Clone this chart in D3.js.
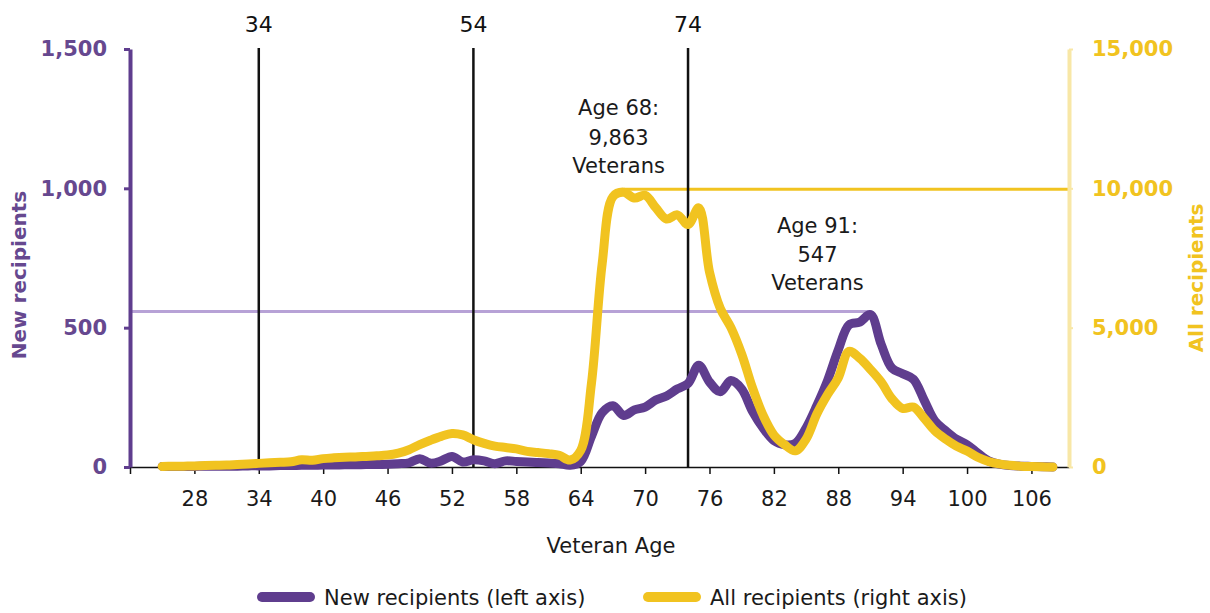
<!DOCTYPE html>
<html>
<head>
<meta charset="utf-8">
<script src="https://cdn.jsdelivr.net/npm/d3@7"></script>
<style>
    body { margin: 0; background: #ffffff; }
    svg text { font-family: "DejaVu Sans", sans-serif; }
</style>
</head>
<body>
<svg id="chart" width="1210" height="613"></svg>
<script>
'use strict';

//Veteran age categories (x axis)
var ages = [25, 26, 27, 28, 29, 30, 31, 32, 33, 34, 35, 36, 37, 38, 39, 40, 41, 42, 43, 44,
    45, 46, 47, 48, 49, 50, 51, 52, 53, 54, 55, 56, 57, 58, 59, 60, 61, 62, 63, 64,
    65, 66, 67, 68, 69, 70, 71, 72, 73, 74, 75, 76, 77, 78, 79, 80, 81, 82, 83, 84,
    85, 86, 87, 88, 89, 90, 91, 92, 93, 94, 95, 96, 97, 98, 99, 100, 101, 102, 103, 104,
    105, 106, 107, 108];

//New recipients (left axis)
var newRecipients = [2, 2, 2, 2, 3, 3, 3, 3, 4, 4, 4, 5, 5, 6, 6, 7, 7, 8, 8, 9,
    9, 10, 12, 15, 30, 14, 22, 38, 18, 26, 22, 12, 22, 20, 18, 16, 14, 12, 6, 20,
    110, 195, 220, 185, 205, 215, 240, 255, 280, 300, 365, 305, 270, 310, 280, 200, 140, 95, 80, 85,
    140, 220, 310, 420, 510, 520, 547, 440, 355, 335, 315, 240, 165, 130, 100, 80, 50, 22, 10, 5,
    3, 2, 1, 0];

//All recipients (right axis)
var allRecipients = [20, 25, 30, 40, 50, 60, 70, 90, 110, 130, 150, 170, 190, 260, 240, 300, 330, 350, 360, 380,
    400, 430, 500, 620, 800, 960, 1100, 1200, 1150, 980, 850, 750, 700, 650, 560, 520, 480, 420, 250, 600,
    3000, 7300, 9700, 9863, 9650, 9750, 9300, 8900, 9050, 8700, 9300, 7000, 5700, 5000, 4050, 2850, 1850, 1150, 800, 580,
    1000, 1900, 2600, 3200, 4150, 3900, 3500, 3050, 2450, 2100, 2150, 1750, 1300, 1000, 750, 570, 350, 200, 110, 60,
    30, 15, 5, 0];

var xTicks = [22, 28, 34, 40, 46, 52, 58, 64, 70, 76, 82, 88, 94, 100, 106];
var leftTicks = [0, 500, 1000, 1500];
var rightTicks = [0, 5000, 10000, 15000];
var markerAges = [34, 54, 74];
var newPeakAge = 91,
    newPeakValue = 547,
    allPeakAge = 68,
    allPeakValue = 9863;

function paint() {
    var svg = d3.select('#chart'),
        purple = '#5f3d8e',
        purpleText = '#66488f',
        lavender = '#b7a2d6',
        yellow = '#f1c320',
        paleYellow = '#f8e7a6',
        ink = '#1a1a1a',
        plot = { left: 130, right: 1069, top: 49, bottom: 467 },
        x = d3.scaleLinear().domain([22, 109.5]).range([plot.left, plot.right]),
        yLeft = d3.scaleLinear().domain([0, 1500]).range([plot.bottom, plot.top]),
        yRight = d3.scaleLinear().domain([0, 15000]).range([plot.bottom, plot.top]),
        newData = ages.map((a, i) => ({ age: a, value: newRecipients[i] })),
        allData = ages.map((a, i) => ({ age: a, value: allRecipients[i] })),
        xAxis, leftAxis, rightAxis;

    //Peak reference lines
    svg.append('line')
        .attr('x1', plot.left).attr('x2', x(newPeakAge))
        .attr('y1', yLeft(newPeakValue) - 3).attr('y2', yLeft(newPeakValue) - 3)
        .attr('stroke', lavender).attr('stroke-width', 3);

    svg.append('line')
        .attr('x1', x(allPeakAge)).attr('x2', plot.right)
        .attr('y1', yRight(allPeakValue) - 3).attr('y2', yRight(allPeakValue) - 3)
        .attr('stroke', yellow).attr('stroke-width', 3);

    //Vertical age markers with labels on top
    svg.selectAll('.marker')
        .data(markerAges)
        .enter().append('line')
        .attr('class', 'marker')
        .attr('x1', d => x(d)).attr('x2', d => x(d))
        .attr('y1', plot.top - 1).attr('y2', plot.bottom)
        .attr('stroke', '#111').attr('stroke-width', 2.5);

    svg.selectAll('.marker-label')
        .data(markerAges)
        .enter().append('text')
        .attr('class', 'marker-label')
        .attr('x', d => x(d)).attr('y', 32)
        .attr('text-anchor', 'middle')
        .attr('font-size', 22)
        .attr('fill', '#111')
        .text(d => d);

    //X axis
    xAxis = d3.axisBottom(x)
        .tickValues(xTicks)
        .tickSizeInner(7)
        .tickSizeOuter(0)
        .tickPadding(17)
        .tickFormat(d => d === 22 ? '' : d);

    svg.append('g')
        .attr('transform', 'translate(0,' + plot.bottom + ')')
        .call(xAxis)
        .call(g => g.select('.domain').attr('stroke', '#111').attr('stroke-width', 1.5))
        .call(g => g.selectAll('.tick line').attr('stroke', '#111').attr('stroke-width', 1.5))
        .call(g => g.selectAll('.tick text')
            .attr('font-family', '"DejaVu Sans", sans-serif')
            .attr('font-size', 21)
            .attr('fill', ink));

    //Left axis
    leftAxis = d3.axisLeft(yLeft)
        .tickValues(leftTicks)
        .tickSizeInner(6)
        .tickSizeOuter(0)
        .tickPadding(17)
        .tickFormat(d3.format(','));

    svg.append('g')
        .attr('transform', 'translate(' + plot.left + ',0)')
        .call(leftAxis)
        .call(g => g.select('.domain').attr('stroke', purple).attr('stroke-width', 4))
        .call(g => g.selectAll('.tick line').attr('stroke', purple).attr('stroke-width', 3))
        .call(g => g.selectAll('.tick text')
            .attr('font-family', '"DejaVu Sans", sans-serif')
            .attr('font-size', 21)
            .attr('font-weight', 'bold')
            .attr('fill', purpleText));

    //Right axis
    rightAxis = d3.axisRight(yRight)
        .tickValues(rightTicks)
        .tickSizeInner(4)
        .tickSizeOuter(0)
        .tickPadding(19)
        .tickFormat(d3.format(','));

    svg.append('g')
        .attr('transform', 'translate(' + plot.right + ',0)')
        .call(rightAxis)
        .call(g => g.select('.domain').attr('stroke', paleYellow).attr('stroke-width', 4))
        .call(g => g.selectAll('.tick line').attr('stroke', paleYellow).attr('stroke-width', 2))
        .call(g => g.selectAll('.tick text')
            .attr('font-family', '"DejaVu Sans", sans-serif')
            .attr('font-size', 21)
            .attr('font-weight', 'bold')
            .attr('fill', yellow));

    //Axis titles
    svg.append('text')
        .attr('transform', 'translate(26,275) rotate(-90)')
        .attr('text-anchor', 'middle')
        .attr('font-size', 20)
        .attr('font-weight', 'bold')
        .attr('fill', purpleText)
        .text('New recipients');

    svg.append('text')
        .attr('transform', 'translate(1203,278) rotate(-90)')
        .attr('text-anchor', 'middle')
        .attr('font-size', 20)
        .attr('font-weight', 'bold')
        .attr('fill', yellow)
        .text('All recipients');

    svg.append('text')
        .attr('x', 611).attr('y', 553)
        .attr('text-anchor', 'middle')
        .attr('font-size', 21)
        .attr('fill', ink)
        .text('Veteran Age');

    //Data lines: purple under, yellow on top
    svg.append('path')
        .datum(newData)
        .attr('fill', 'none')
        .attr('stroke', purple)
        .attr('stroke-width', 9)
        .attr('stroke-linejoin', 'round')
        .attr('stroke-linecap', 'round')
        .attr('d', d3.line().curve(d3.curveCatmullRom).x(d => x(d.age)).y(d => yLeft(d.value)));

    svg.append('path')
        .datum(allData)
        .attr('fill', 'none')
        .attr('stroke', yellow)
        .attr('stroke-width', 9)
        .attr('stroke-linejoin', 'round')
        .attr('stroke-linecap', 'round')
        .attr('d', d3.line().curve(d3.curveCatmullRom).x(d => x(d.age)).y(d => yRight(d.value)));

    //Peak annotations
    annotate(x(allPeakAge) - 5, yRight(allPeakValue), ['Age ' + allPeakAge + ':', d3.format(',')(allPeakValue), 'Veterans'], [-77, -47, -19]);
    annotate(x(newPeakAge) - 53, yLeft(newPeakValue), ['Age ' + newPeakAge + ':', d3.format(',')(newPeakValue), 'Veterans'], [-82, -53, -25]);

    function annotate(cx, cy, lines, offsets) {
        svg.append('g')
            .selectAll('text')
            .data(lines)
            .enter().append('text')
            .attr('x', cx)
            .attr('y', (d, i) => cy + offsets[i])
            .attr('text-anchor', 'middle')
            .attr('font-size', 21)
            .attr('fill', ink)
            .text(d => d);
    }

    //Legend
    var legend = svg.append('g').attr('class', 'legend'),
        items = [
            { label: 'New recipients (left axis)', color: purple, x: 257 },
            { label: 'All recipients (right axis)', color: yellow, x: 643 }
        ];

    legend.selectAll('line')
        .data(items)
        .enter().append('line')
        .attr('x1', d => d.x + 5).attr('x2', d => d.x + 53)
        .attr('y1', 597).attr('y2', 597)
        .attr('stroke', d => d.color)
        .attr('stroke-width', 10)
        .attr('stroke-linecap', 'round');

    legend.selectAll('text')
        .data(items)
        .enter().append('text')
        .attr('x', d => d.x + 67)
        .attr('y', 605)
        .attr('font-size', 21)
        .attr('fill', ink)
        .text(d => d.label);
}

paint();
</script>
</body>
</html>
